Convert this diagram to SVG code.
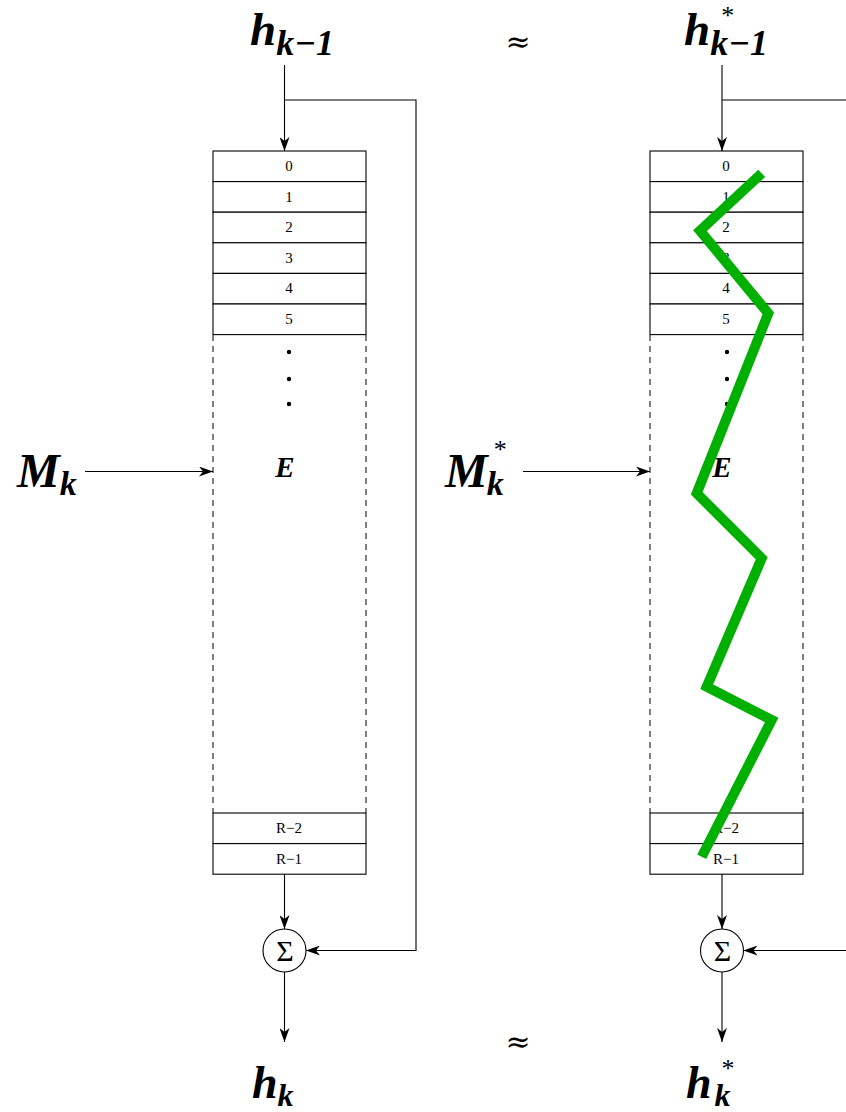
<svg xmlns="http://www.w3.org/2000/svg" width="846" height="1112" viewBox="0 0 846 1112">
<style>
.ln{fill:none;stroke:#000;stroke-width:1.1}
.dash{fill:none;stroke:#000;stroke-width:1;stroke-dasharray:6,5}
.cell{fill:#fff;stroke:#000;stroke-width:1.1}
.num{font-family:"Liberation Serif",serif;font-size:15px;text-anchor:middle;fill:#000}
.m{font-family:"Liberation Serif",serif;font-weight:bold;font-style:italic;fill:#000}
.st{font-family:"Liberation Serif",serif;font-weight:normal;font-style:normal}
.ap{font-family:"DejaVu Serif",serif;font-size:30px;text-anchor:middle;fill:#000}
</style>
<defs>
<marker id="ar" viewBox="0 0 14 10" refX="14" refY="5" markerWidth="14" markerHeight="10" markerUnits="userSpaceOnUse" orient="auto">
<path d="M0,0 L14,5 L0,10 L4,5 Z" fill="#000"/>
</marker>
</defs>

<g id="labels">
<text class="m" x="250" y="45" font-size="47">h<tspan font-size="36" dy="10">k−1</tspan></text>
<text class="ap" x="518" y="52">≈</text>
<text class="m" x="684" y="45" font-size="47">h<tspan class="st" font-size="26" dx="11" dy="-21">*</tspan><tspan font-size="36" dx="-24" dy="31">k−1</tspan></text>
<text class="m" x="17" y="487" font-size="48">M<tspan font-size="34" dy="8">k</tspan></text>
<text class="m" x="445" y="487" font-size="48">M<tspan class="st" font-size="26" dx="6" dy="-29">*</tspan><tspan font-size="34" dx="-20" dy="37">k</tspan></text>
<text class="m" x="252" y="1098" font-size="46">h<tspan font-size="32" dy="8">k</tspan></text>
<text class="ap" x="518" y="1052">≈</text>
<text class="m" x="686" y="1098" font-size="46">h<tspan class="st" font-size="26" dx="10" dy="-21">*</tspan><tspan font-size="32" dx="-20" dy="29">k</tspan></text>
</g>

<g id="left-column">
<rect class="cell" x="213" y="151" width="153" height="30.6"/>
<rect class="cell" x="213" y="181.6" width="153" height="30.6"/>
<rect class="cell" x="213" y="212.2" width="153" height="30.6"/>
<rect class="cell" x="213" y="242.8" width="153" height="30.6"/>
<rect class="cell" x="213" y="273.4" width="153" height="30.6"/>
<rect class="cell" x="213" y="304" width="153" height="30.6"/>
<line class="dash" x1="213" y1="335" x2="213" y2="813"/>
<line class="dash" x1="366" y1="335" x2="366" y2="813"/>
<rect class="cell" x="213" y="813" width="153" height="30.6"/>
<rect class="cell" x="213" y="843.6" width="153" height="30.6"/>
<text class="num" x="289" y="171">0</text>
<text class="num" x="289" y="202">1</text>
<text class="num" x="289" y="232">2</text>
<text class="num" x="289" y="263">3</text>
<text class="num" x="289" y="293">4</text>
<text class="num" x="289" y="324">5</text>
<circle cx="289" cy="352" r="2.2"/>
<circle cx="289" cy="379" r="2.2"/>
<circle cx="289" cy="404" r="2.2"/>
<text class="m" x="285" y="477" font-size="29" text-anchor="middle">E</text>
<text class="num" x="289" y="833">R−2</text>
<text class="num" x="289" y="864">R−1</text>
</g>

<g id="left-sum">
<circle cx="284.5" cy="950.5" r="21.5" fill="#fff" stroke="#000" stroke-width="1.1"/>
<text x="285" y="961" font-family="Liberation Serif,serif" font-size="30" text-anchor="middle">Σ</text>
</g>

<g id="right-column">
<rect class="cell" x="650" y="151" width="153" height="30.6"/>
<rect class="cell" x="650" y="181.6" width="153" height="30.6"/>
<rect class="cell" x="650" y="212.2" width="153" height="30.6"/>
<rect class="cell" x="650" y="242.8" width="153" height="30.6"/>
<rect class="cell" x="650" y="273.4" width="153" height="30.6"/>
<rect class="cell" x="650" y="304" width="153" height="30.6"/>
<line class="dash" x1="650" y1="335" x2="650" y2="813"/>
<line class="dash" x1="803" y1="335" x2="803" y2="813"/>
<rect class="cell" x="650" y="813" width="153" height="30.6"/>
<rect class="cell" x="650" y="843.6" width="153" height="30.6"/>
<text class="num" x="726" y="171">0</text>
<text class="num" x="726" y="202">1</text>
<text class="num" x="726" y="232">2</text>
<text class="num" x="726" y="263">3</text>
<text class="num" x="726" y="293">4</text>
<text class="num" x="726" y="324">5</text>
<circle cx="727" cy="352" r="2.2"/>
<circle cx="727" cy="379" r="2.2"/>
<circle cx="727" cy="404" r="2.2"/>
<text class="m" x="722" y="477" font-size="29" text-anchor="middle">E</text>
<text class="num" x="726" y="833">R−2</text>
<text class="num" x="726" y="864">R−1</text>
</g>

<g id="right-sum">
<circle cx="722" cy="950.5" r="21.5" fill="#fff" stroke="#000" stroke-width="1.1"/>
<text x="722.5" y="961" font-family="Liberation Serif,serif" font-size="30" text-anchor="middle">Σ</text>
</g>

<g id="path">
<polyline points="761.7,173.3 700,230.7 768.3,313.3 696.7,493.3 761.7,558.3 706.7,686.7 771.7,720 701.7,856.7" fill="none" stroke="#00b000" stroke-width="10" stroke-linejoin="miter" stroke-miterlimit="10"/>
</g>

<g id="connectors">
<line class="ln" x1="284.5" y1="65" x2="284.5" y2="151" marker-end="url(#ar)"/>
<polyline class="ln" points="284.5,100 416,100 416,950.5 306,950.5" marker-end="url(#ar)"/>
<line class="ln" x1="284.5" y1="874" x2="284.5" y2="929" marker-end="url(#ar)"/>
<line class="ln" x1="284.5" y1="972" x2="284.5" y2="1042" marker-end="url(#ar)"/>
<line class="ln" x1="85" y1="471.5" x2="213" y2="471.5" marker-end="url(#ar)"/>
<line class="ln" x1="722" y1="65" x2="722" y2="151" marker-end="url(#ar)"/>
<line class="ln" x1="722" y1="100" x2="846" y2="100"/>
<line class="ln" x1="722" y1="874" x2="722" y2="929" marker-end="url(#ar)"/>
<line class="ln" x1="722" y1="972" x2="722" y2="1042" marker-end="url(#ar)"/>
<line class="ln" x1="846" y1="950.5" x2="743.5" y2="950.5" marker-end="url(#ar)"/>
<line class="ln" x1="523" y1="471.5" x2="650" y2="471.5" marker-end="url(#ar)"/>
</g>
</svg>
